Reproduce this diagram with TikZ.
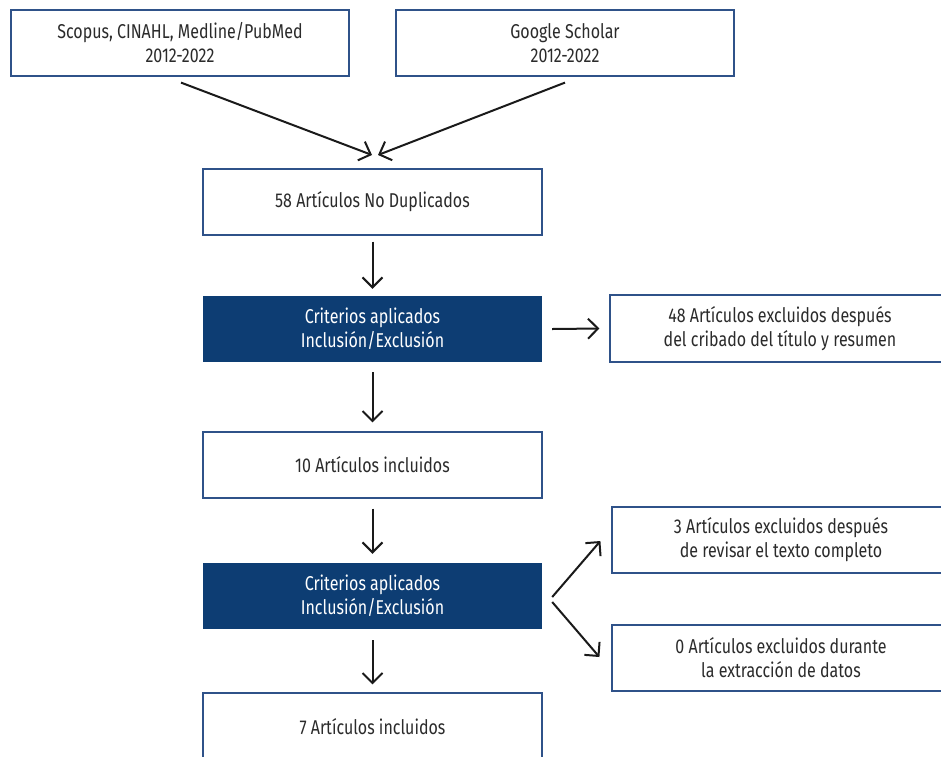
\documentclass[tikz,border=0pt]{standalone}
\usepackage{fontspec}
\setmainfont{Fira Sans}[FakeStretch=0.8]
\usetikzlibrary{arrows.meta}
\definecolor{boxline}{HTML}{2F5289}
\definecolor{darkfill}{HTML}{0D3D73}
\definecolor{txt}{HTML}{2B2B2B}
\definecolor{arr}{HTML}{1A1A1A}
\tikzset{
  whitebox/.style={draw=boxline, line width=1.2pt, fill=white, minimum width=338pt, minimum height=66pt, inner sep=0pt, align=center, text=txt, font=\fontsize{20}{24}\selectfont},
  darkbox/.style={fill=darkfill, minimum width=339pt, minimum height=66pt, inner sep=0pt, align=center, text=white, font=\fontsize{20}{24}\selectfont},
  flow/.style={draw=arr, line width=2pt, -{Straight Barb[length=10pt,width=20pt,line width=2pt]}}
}
\begin{document}
\begin{tikzpicture}[x=1pt,y=-1pt]
\useasboundingbox (0,0) rectangle (941,756);
\clip (0,0) rectangle (941,756);
\node[whitebox] (src1) at (180,43) {Scopus, CINAHL, Medline/PubMed\\2012-2022};
\node[whitebox] (src2) at (565,43) {Google Scholar\\2012-2022};
\node[whitebox, minimum width=339pt] (dup) at (372.5,202) {58 Artículos No Duplicados};
\node[darkbox] (crit1) at (372.5,329) {Criterios aplicados\\Inclusión/Exclusión};
\node[whitebox, minimum width=340pt, minimum height=67pt] (exc1) at (780,328.5) {48 Artículos excluidos después\\del cribado del título y resumen};
\node[whitebox, minimum width=339pt] (inc1) at (372.5,465) {10 Artículos incluidos};
\node[darkbox] (crit2) at (372.5,596) {Criterios aplicados\\Inclusión/Exclusión};
\node[whitebox] (exc2) at (781,540) {3 Artículos excluidos después\\de revisar el texto completo};
\node[whitebox] (exc3) at (781,658) {0 Artículos excluidos durante\\la extracción de datos};
\node[whitebox, minimum width=339pt, minimum height=68pt] (inc2) at (372.5,727) {7 Artículos incluidos};
\coordinate (m) at (375,155);
\draw[flow] ([xshift=1pt,yshift=-6pt]src1.south) -- ([xshift=-3pt]m);
\draw[flow] ([yshift=-6pt]src2.south) -- ([xshift=3pt]m);
\draw[flow] ([yshift=-6pt]dup.south) -- ([yshift=7pt]crit1.north);
\draw[flow] ([yshift=-10pt]crit1.south) -- ([yshift=9pt]inc1.north);
\draw[flow] ([xshift=10pt]crit1.east) -- ([xshift=-10pt]exc1.west);
\draw[flow] ([yshift=-10pt]inc1.south) -- ([yshift=9pt]crit2.north);
\draw[flow] ([yshift=-11pt]crit2.south) -- ([yshift=8pt]inc2.north);
\draw[flow] ([xshift=10pt,yshift=-1pt]crit2.east) -- ([xshift=-11pt,yshift=-1pt]exc2.west);
\draw[flow] ([xshift=10pt,yshift=-6pt]crit2.east) -- ([xshift=-12pt,yshift=1pt]exc3.west);
\end{tikzpicture}
\end{document}
